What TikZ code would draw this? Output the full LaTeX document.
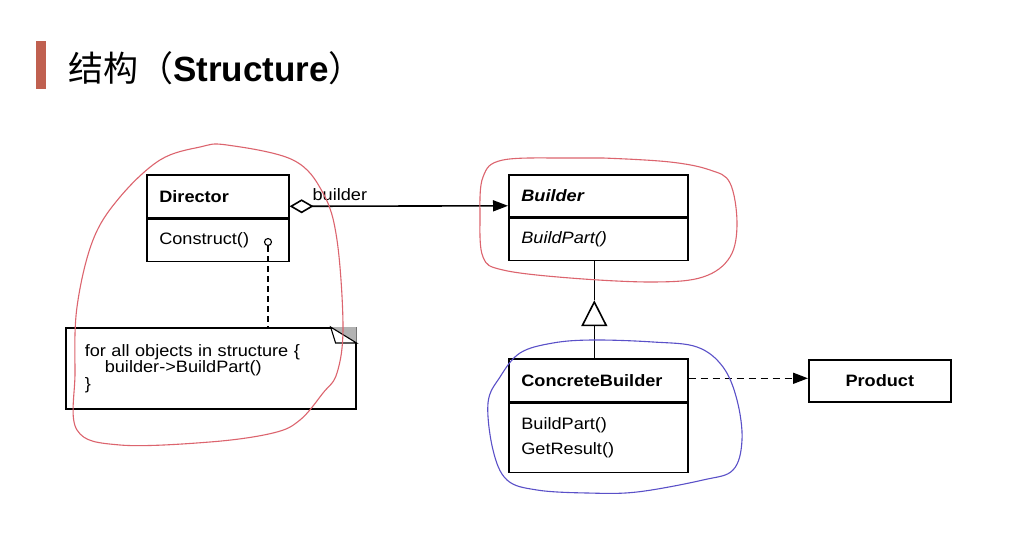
\documentclass[tikz,border=0pt]{standalone}
\usepackage{fontspec}
\setmainfont{Liberation Sans}
\newfontfamily\cjk{Noto Sans CJK SC}
\newfontfamily\umlfont{Liberation Sans}[FakeStretch=1.1]
\usetikzlibrary{arrows.meta,calc}
\definecolor{titlebar}{RGB}{192,96,80}
\definecolor{penred}{RGB}{220,100,110}
\definecolor{penblue}{RGB}{90,80,200}
\tikzset{
  umlbox/.style={draw, line width=1.6pt, anchor=north west, inner xsep=12.5pt, inner ysep=0pt, align=left, font={\umlfont\fontsize{16.5}{25}\selectfont}},
  link/.style={line width=1.6pt},
  pen/.style={line width=1.1pt, line join=round},
}
\begin{document}
\begin{tikzpicture}[x=1pt,y=-1pt]
\path[fill=white,use as bounding box] (0,0) rectangle (1017,553);
\fill[titlebar] (36,41) rectangle (46,89);
\node[anchor=base west, inner sep=0pt, font=\fontsize{35}{40}\selectfont] (title) at (68,82) {{\cjk 结构（}{\bfseries Structure}{\cjk ）}};
\node[umlbox, text width=117pt, minimum height=43pt] (dirA) at (146,174) {\bfseries Director};
\node[umlbox, text width=117pt, minimum height=42pt] (dirB) at (dirA.south west) {Construct()};
\node[umlbox, text width=154pt, minimum height=42pt] (bldA) at (508,174) {\bfseries\itshape Builder};
\node[umlbox, text width=154pt, minimum height=42pt] (bldB) at (bldA.south west) {\itshape BuildPart()};
\node[umlbox, text width=154pt, minimum height=43pt] (cbA) at (508,358) {\bfseries ConcreteBuilder};
\node[umlbox, text width=154pt, minimum height=69pt] (cbB) at (cbA.south west) {BuildPart()\\GetResult()};
\node[umlbox, text width=117pt, minimum height=42pt, align=center] (prod) at (808,359) {\bfseries Product};
\node[umlbox, text width=252pt, inner xsep=19pt, minimum height=81pt, font={\umlfont\fontsize{16.5}{16.5}\selectfont}] (note) at (65,327) {for all objects in structure \{\\\hspace*{20pt}builder->BuildPart()\\\}};
\fill[gray!60] ($(note.north east)+(-26,0)$) -- (note.north east) -- ($(note.north east)+(0,16)$) -- cycle;
\draw[line width=1.1pt] ($(note.north east)+(-26,0)$) -- ($(note.north east)+(-21,16)$) -- ($(note.north east)+(0,16)$) -- cycle;
\node[circle, draw, line width=1.1pt, inner sep=0pt, minimum size=7pt] (ctor) at (268,242) {};
\draw[link, dash pattern=on 6pt off 4pt] (ctor) -- (ctor |- note.north);
\draw[link, {Diamond[open,length=24pt,width=14pt]}-{Triangle[length=15pt,width=11pt]}] ([yshift=-10pt]dirA.east) -- node[pos=0.23, above=1pt, font={\umlfont\fontsize{16.5}{20}\selectfont}] (role) {builder} ([yshift=-10pt]bldA.west);
\coordinate (gtip) at ($([xshift=-4pt]bldB.south)+(0,39)$);
\draw[link] ([xshift=-4pt]bldB.south) -- (gtip);
\draw[link, -{Triangle[open,length=26pt,width=26pt]}] ([xshift=-4pt]cbA.north) -- (gtip);
\draw[link, dash pattern=on 7pt off 5pt, -{Triangle[length=15pt,width=11pt]}] ([yshift=2pt]cbA.east) -- ([yshift=2pt]cbA.east -| prod.west);
\draw[pen, penred] plot[smooth cycle, tension=0.6] coordinates {(227,145) (293,160) (323,193) (337,240) (343,327) (337,373) (323,393) (300,420) (273,433) (210,442) (120,445) (77,430) (75,373) (77,307) (93,240) (120,197) (160,160) (200,147)};
\draw[pen, penred] plot[smooth cycle, tension=0.6] coordinates {(603,158) (670,162) (710,170) (730,183) (737,223) (730,257) (703,277) (653,282) (570,278) (503,270) (483,257) (480,217) (483,177) (503,160) (570,158)};
\draw[pen, penblue] plot[smooth cycle, tension=0.6] coordinates {(593,340) (653,342) (697,347) (723,367) (737,400) (742,440) (733,470) (703,480) (637,492) (587,493) (537,490) (507,480) (493,450) (488,403) (500,377) (520,353) (553,343)};
\end{tikzpicture}
\end{document}
